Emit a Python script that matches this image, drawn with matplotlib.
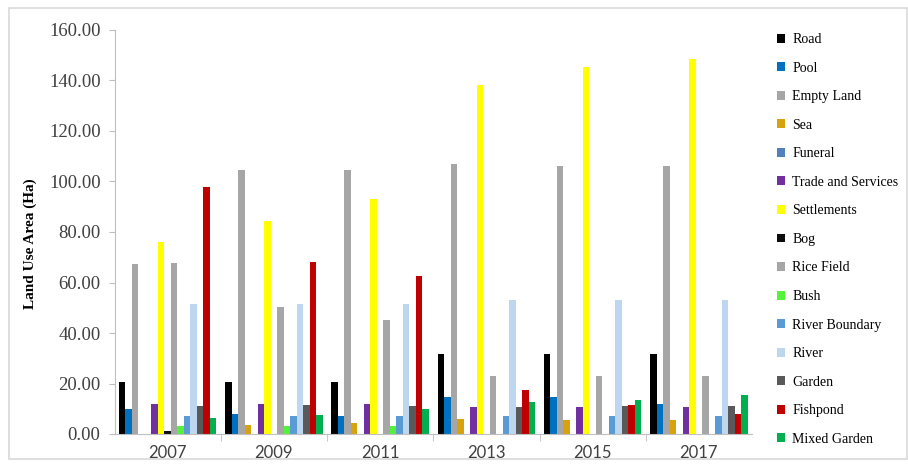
import numpy as np
import matplotlib.pyplot as plt
from matplotlib.patches import Rectangle

years = ['2007', '2009', '2011', '2013', '2015', '2017']
categories = ['Road', 'Pool', 'Empty Land', 'Sea', 'Funeral', 'Trade and Services',
              'Settlements', 'Bog', 'Rice Field', 'Bush', 'River Boundary', 'River',
              'Garden', 'Fishpond', 'Mixed Garden']
colors = ['#000000', '#0070c0', '#a6a6a6', '#d8a20e', '#4f81bd', '#7030a0',
          '#ffff00', '#0d0d0d', '#a6a6a6', '#55f23c', '#5b9bd5', '#bdd7ee',
          '#595959', '#c00000', '#00b050']

# area (Ha) per category, one value per year
road = [20.5, 20.5, 20.5, 31.5, 31.5, 31.5]
pool = [10.0, 8.0, 7.0, 14.5, 14.5, 12.0]
empty_land = [67.2, 104.7, 104.7, 106.8, 106.0, 106.3]
sea = [0.0, 3.5, 4.2, 6.0, 5.5, 5.5]
funeral = [0.0, 0.0, 0.0, 0.0, 0.0, 0.0]
trade = [12.0, 12.0, 12.0, 10.5, 10.5, 10.5]
settlements = [76.0, 84.5, 93.2, 138.3, 145.4, 148.5]
bog = [1.2, 0.0, 0.0, 0.0, 0.0, 0.0]
rice_field = [67.8, 50.4, 45.2, 23.0, 23.0, 23.0]
bush = [3.0, 3.0, 3.0, 0.0, 0.0, 0.0]
river_boundary = [7.0, 7.0, 7.0, 7.0, 7.0, 7.0]
river = [51.6, 51.6, 51.6, 53.0, 53.0, 53.0]
garden = [11.0, 11.4, 11.0, 10.5, 10.9, 11.0]
fishpond = [97.8, 68.0, 62.5, 17.3, 11.3, 7.9]
mixed_garden = [6.2, 7.7, 9.8, 12.8, 13.3, 15.5]

series = [road, pool, empty_land, sea, funeral, trade, settlements, bog,
          rice_field, bush, river_boundary, river, garden, fishpond, mixed_garden]

fig = plt.figure(figsize=(9.08, 4.68), dpi=100)
fig.patches.append(Rectangle((9 / 908, 1 - 459 / 468), 898 / 908, 451 / 468,
                             transform=fig.transFigure, fill=False,
                             edgecolor='#d9d9d9', lw=1.2))
ax = fig.add_axes([114.5 / 908, 34 / 468, 637.5 / 908, 404 / 468])

n = len(series)
x = np.arange(len(years))
w = 0.917 / n
for i, (name, vals, c) in enumerate(zip(categories, series, colors)):
    ax.bar(x - 0.917 / 2 + w * (i + 0.5), vals, w, color=c, label=name)

ax.set_xlim(-0.5, len(years) - 0.5)
ax.set_ylim(0, 160)
ax.set_yticks(np.arange(0, 161, 20))
ax.set_yticklabels(['%.2f' % v for v in np.arange(0, 161, 20)],
                   family='Liberation Serif', fontsize=13.5, color='#404040')
ax.set_xticks(x)
ax.set_xticklabels(years, family='Lato', fontsize=12, color='#404040')
ax.set_xticks(np.arange(0.5, len(years) - 0.5, 1), minor=True)
ax.tick_params(axis='x', which='major', length=0, pad=8)
ax.tick_params(axis='x', which='minor', length=5, color='#bfbfbf')
ax.tick_params(axis='y', length=4, color='#bfbfbf', pad=6)
for s in ['top', 'right']:
    ax.spines[s].set_visible(False)
for s in ['left', 'bottom']:
    ax.spines[s].set_color('#bfbfbf')

ax.set_ylabel('Land Use Area (Ha)', family='Liberation Serif', fontweight='bold',
              fontsize=11)
ax.yaxis.set_label_coords(-0.121, 0.47)

fig.legend(loc='upper left', bbox_to_anchor=(777 / 908, 1 - 33 / 468),
           frameon=False, prop={'family': 'Liberation Serif', 'size': 10},
           handlelength=0.6, handleheight=0.6, handletextpad=0.5,
           labelspacing=1.12, borderaxespad=0, borderpad=0)

fig.savefig('out.png', dpi=100)
